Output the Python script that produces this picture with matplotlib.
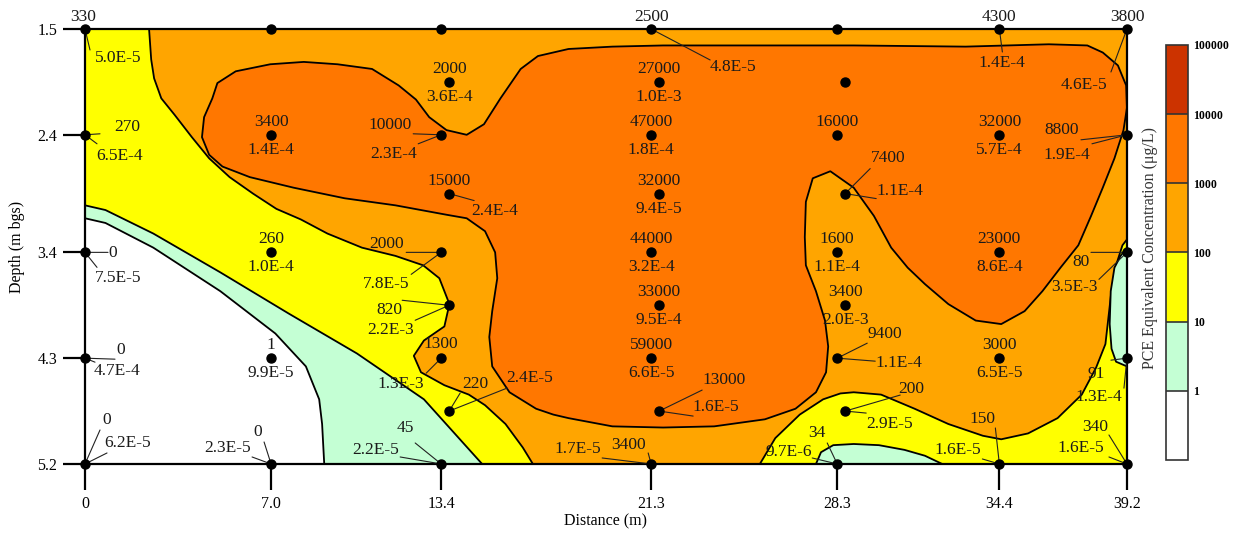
import matplotlib
matplotlib.use('Agg')
import matplotlib.pyplot as plt
import matplotlib.colors as mcolors
import matplotlib.colorbar as mcolorbar

plt.rcParams['font.family'] = ['Liberation Serif', 'DejaVu Serif']

# ---- sample locations (distance m, depth m bgs) and their two labels ----
dist = [0, 0, 0, 0, 0,
        7.0, 7.0, 7.0, 7.0, 7.0,
        13.4, 13.7, 13.4, 13.7, 13.4, 13.7, 13.4, 13.7, 13.4,
        21.3, 21.6, 21.3, 21.6, 21.3, 21.6, 21.3, 21.6, 21.3,
        28.3, 28.6, 28.3, 28.6, 28.3, 28.6, 28.3, 28.6, 28.3,
        34.4, 34.4, 34.4, 34.4, 34.4,
        39.2, 39.2, 39.2, 39.2, 39.2]
depth = [1.5, 2.4, 3.4, 4.3, 5.2,
         1.5, 2.4, 3.4, 4.3, 5.2,
         1.5, 1.95, 2.4, 2.9, 3.4, 3.85, 4.3, 4.75, 5.2,
         1.5, 1.95, 2.4, 2.9, 3.4, 3.85, 4.3, 4.75, 5.2,
         1.5, 1.95, 2.4, 2.9, 3.4, 3.85, 4.3, 4.75, 5.2,
         1.5, 2.4, 3.4, 4.3, 5.2,
         1.5, 2.4, 3.4, 4.3, 5.2]
conc = ['330', '270', '0', '0', '0',
        '', '3400', '260', '1', '0',
        '', '2000', '10000', '15000', '2000', '820', '1300', '220', '45',
        '2500', '27000', '47000', '32000', '44000', '33000', '59000', '13000', '3400',
        '', '', '16000', '7400', '1600', '3400', '9400', '200', '34',
        '4300', '32000', '23000', '3000', '150',
        '3800', '8800', '80', '91', '340']
second = ['5.0E-5', '6.5E-4', '7.5E-5', '4.7E-4', '6.2E-5',
          '', '1.4E-4', '1.0E-4', '9.9E-5', '2.3E-5',
          '', '3.6E-4', '2.3E-4', '2.4E-4', '7.8E-5', '2.2E-3', '1.3E-3', '2.4E-5', '2.2E-5',
          '4.8E-5', '1.0E-3', '1.8E-4', '9.4E-5', '3.2E-4', '9.5E-4', '6.6E-5', '1.6E-5', '1.7E-5',
          '', '', '', '1.1E-4', '1.1E-4', '2.0E-3', '1.1E-4', '2.9E-5', '9.7E-6',
          '1.4E-4', '5.7E-4', '8.6E-4', '6.5E-5', '1.6E-5',
          '4.6E-5', '1.9E-4', '3.5E-3', '1.3E-4', '1.6E-5']

# ---- concentration classes ----
levels = [0.1, 1, 10, 100, 1000, 10000, 100000]
level_colors = ['#FFFFFF', '#C4FFD4', '#FFFF00', '#FFA500', '#FF7700', '#CC3300']

# ---- contour outlines (distance, depth) ----
yel_a_x = [0, 2.41, 2.49, 2.60, 2.87, 3.37, 4.02, 4.67, 5.44, 6.32, 7.20, 8.12, 9.12, 10.42,
           11.68, 12.72, 13.33, 13.71, 13.52, 12.75, 12.37, 12.64, 13.52, 14.44, 15.05, 15.82,
           16.47, 16.85, 0]
yel_a_d = [1.5, 1.5, 1.76, 1.92, 2.09, 2.23, 2.42, 2.60, 2.76, 2.90, 3.03, 3.12, 3.24, 3.36,
           3.43, 3.51, 3.62, 3.84, 4.03, 4.15, 4.28, 4.42, 4.53, 4.61, 4.70, 4.86,
           5.06, 5.2, 5.2]

grn_a_x = [0, 0.77, 2.57, 5.09, 7.66, 10.23, 12.75, 14.94, 0]
grn_a_d = [3.0, 3.04, 3.24, 3.57, 3.92, 4.26, 4.65, 5.2, 5.2]

wht_a_x = [0, 0.77, 2.57, 5.09, 7.16, 8.31, 8.81, 8.92, 9.0, 0]
wht_a_d = [3.11, 3.15, 3.36, 3.73, 4.09, 4.37, 4.65, 4.86, 5.2, 5.2]

hot_x = [5.67, 6.97, 8.23, 9.50, 10.80, 11.80, 12.45, 12.95, 13.60, 14.36, 15.01, 15.63, 16.39,
         17.04, 18.19, 19.84, 21.75, 25.47, 28.92, 33.13, 36.26, 37.71, 38.29, 38.86, 39.17,
         39.2, 39.07, 38.73, 38.29, 37.85, 37.37, 36.70, 36.02, 35.35, 34.47, 33.51, 32.48,
         31.60, 30.95, 30.33, 29.68, 28.92, 28.04, 27.38, 27.12, 27.08, 27.12, 27.50, 27.84,
         27.96, 27.88, 27.50, 26.73, 25.58, 23.67, 21.75, 19.84, 18.19, 17.62, 16.97, 15.97,
         15.32, 15.21, 15.32, 15.51, 15.43, 15.05, 14.36, 13.60, 11.68, 9.77, 7.85, 6.20,
         5.17, 4.67, 4.40, 4.48, 4.79, 4.98]
hot_d = [1.86, 1.80, 1.78, 1.80, 1.84, 1.98, 2.10, 2.25, 2.36, 2.40, 2.31, 2.09, 1.84,
         1.73, 1.67, 1.65, 1.64, 1.64, 1.64, 1.65, 1.63, 1.64, 1.70, 1.81, 1.98,
         2.17, 2.36, 2.60, 2.85, 3.09, 3.34, 3.53, 3.73, 3.90, 4.01, 3.98, 3.84,
         3.67, 3.53, 3.36, 3.09, 2.85, 2.71, 2.77, 2.97, 3.27, 3.51, 3.73, 3.98,
         4.20, 4.42, 4.59, 4.73, 4.82, 4.88, 4.89, 4.88, 4.81, 4.78, 4.73, 4.59,
         4.37, 4.12, 3.90, 3.62, 3.40, 3.22, 3.11, 3.08, 3.00, 2.94, 2.85, 2.76,
         2.67, 2.57, 2.42, 2.25, 2.09, 1.96]

yel_b_x = [25.39, 25.97, 26.89, 27.77, 28.42, 28.92, 29.95, 31.21, 32.48, 33.78, 34.47, 35.48,
           36.59, 37.50, 38.04, 38.39, 38.52, 38.62, 38.79, 39.03, 39.2, 39.2]
yel_b_d = [5.2, 4.98, 4.78, 4.65, 4.60, 4.59, 4.61, 4.73, 4.86, 4.96, 4.99, 4.94,
           4.81, 4.61, 4.38, 4.18, 3.92, 3.72, 3.51, 3.34, 3.29, 5.2]

grn_b_x = [39.2, 38.96, 38.73, 38.59, 38.55, 38.62, 38.79, 39.2]
grn_b_d = [3.36, 3.43, 3.53, 3.73, 4.01, 4.22, 4.33, 4.37]

grn_c_x = [27.50, 27.69, 28.15, 28.92, 29.87, 30.83, 31.60, 32.25]
grn_c_d = [5.2, 5.10, 5.04, 5.03, 5.04, 5.08, 5.13, 5.2]

xticks = [0, 7.0, 13.4, 21.3, 28.3, 34.4, 39.2]
xtick_labels = ['0', '7.0', '13.4', '21.3', '28.3', '34.4', '39.2']
yticks = [1.5, 2.4, 3.4, 4.3, 5.2]

# label placement in pixels: idx -> (top offset, top leader end, bottom offset, bottom leader end)
place = {
    0: ((-2, 12), None, (33, -29), (5, -21)),
    1: ((42, 8), (15, 1), (35, -21), (12, -9)),
    2: ((28, -1), (23, 0), (33, -26), (12, -15)),
    3: ((36, 8), (30, -1), (32, -13), (10, -4)),
    4: ((22, 44), (15, 34), (43, 21), (22, 11)),
    9: ((-13, 32), (-7, 22), (-44, 16), (-19, 7)),
    12: ((-51, 10), (-28, 1), (-48, -19), (-23, -9)),
    13: ((0, 13), None, (46, -17), (25, -7)),
    14: ((-55, 8), (-35, 0), (-55, -32), (-30, -22)),
    15: ((-60, -5), (-47, 5), (-59, -25), (-34, -15)),
    16: ((0, 14), None, (-40, -26), (-15, -15)),
    17: ((26, 27), (11, 18), (80, 33), (58, 23)),
    18: ((-36, 36), (-26, 21), (-66, 14), (-41, 7)),
    19: ((0, 12), None, (82, -38), (59, -31)),
    26: ((65, 31), (43, 21), (57, 4), (34, -5)),
    27: ((-23, 19), (-3, 11), (-73, 15), (-49, 6)),
    31: ((43, 36), (25, 25), (55, 3), (31, -5)),
    34: ((48, 24), (30, 15), (62, -5), (38, -3)),
    35: ((66, 22), (55, 16), (44, -13), (21, -2)),
    36: ((-20, 31), (-10, 21), (-48, 12), (-25, 6)),
    37: ((0, 12), None, (3, -34), (3, -23)),
    41: ((-17, 45), (-4, 36), (-42, 14), (-17, 5)),
    42: ((0, 12), None, (-43, -56), (-16, -43)),
    43: ((-65, 5), (-46, -5), (-60, -20), (-35, -9)),
    44: ((-46, -10), (-36, 0), (-53, -35), (-28, -27)),
    45: ((-31, -16), (-16, -2), (-28, -39), (-3, -30)),
    46: ((-32, 37), (-18, 29), (-46, 16), (-18, 7)),
}

fig = plt.figure(figsize=(12.41, 5.33), dpi=100)
ax = fig.add_axes([0.0685, 0.1295, 0.8396, 0.8161])
ax.set_facecolor(level_colors[3])

regions = [(yel_a_x, yel_a_d, level_colors[2]),
           (grn_a_x, grn_a_d, level_colors[1]),
           (wht_a_x, wht_a_d, level_colors[0]),
           (hot_x, hot_d, level_colors[4]),
           (yel_b_x, yel_b_d, level_colors[2]),
           (grn_b_x, grn_b_d, level_colors[1]),
           (grn_c_x, grn_c_d, level_colors[1])]
for xs, ds, c in regions:
    ax.fill(xs, ds, facecolor=c, edgecolor='black', linewidth=1.3, joinstyle='round', zorder=1)

ax.plot(dist, depth, 'o', color='black', ms=6.5, clip_on=False, zorder=6)

txt_kw = dict(textcoords='offset pixels', ha='center', va='center', fontsize=12.5,
              color='#1a1a1a', annotation_clip=False, zorder=7)
line_kw = dict(arrowstyle='-', color='#222222', lw=0.8, shrinkA=0, shrinkB=0)
for i in range(len(dist)):
    top_off, top_lead, bot_off, bot_lead = place.get(i, ((0, 13), None, (0, -15), None))
    for label, off, lead in ((conc[i], top_off, top_lead), (second[i], bot_off, bot_lead)):
        if not label:
            continue
        if lead is not None:
            ax.annotate('', xy=(dist[i], depth[i]), xytext=lead, textcoords='offset pixels',
                        arrowprops=line_kw, annotation_clip=False, zorder=5)
        ax.annotate(label, xy=(dist[i], depth[i]), xytext=off, **txt_kw)

ax.set_xlim(0, 39.2)
ax.set_ylim(5.2, 1.5)
ax.set_xticks(xticks)
ax.set_xticklabels(xtick_labels)
ax.set_yticks(yticks)
ax.tick_params(axis='x', direction='out', length=19, width=1.6, labelsize=11.5, pad=4)
ax.tick_params(axis='y', direction='out', length=16, width=1.6, labelsize=11.5, pad=4)
for s in ax.spines.values():
    s.set_linewidth(1.6)
    s.set_zorder(4)
ax.set_xlabel('Distance (m)', fontsize=11.5, labelpad=1)
ax.set_ylabel('Depth (m bgs)', fontsize=11.5, labelpad=9)

# colour legend
cax = fig.add_axes([0.9396, 0.137, 0.0177, 0.7786])
cmap = mcolors.ListedColormap(level_colors)
norm = mcolors.BoundaryNorm(levels, cmap.N)
cb = mcolorbar.ColorbarBase(cax, cmap=cmap, norm=norm, boundaries=levels, ticks=levels[1:],
                            spacing='uniform', drawedges=True)
cb.minorticks_off()
cb.set_ticklabels(['1', '10', '100', '1000', '10000', '100000'])
cb.ax.tick_params(length=0, labelsize=8.5, pad=4)
for t in cb.ax.get_yticklabels():
    t.set_fontweight('bold')
cb.outline.set_linewidth(1.2)
cb.outline.set_edgecolor('#333333')
cb.dividers.set_color('#333333')
cb.dividers.set_linewidth(1.2)
fig.text(0.927, 0.535, 'PCE Equivalent Concentration (\u03bcg/L)', rotation=90,
         ha='center', va='center', fontsize=11.5, color='#333333')

fig.savefig('out.png', dpi=100)
